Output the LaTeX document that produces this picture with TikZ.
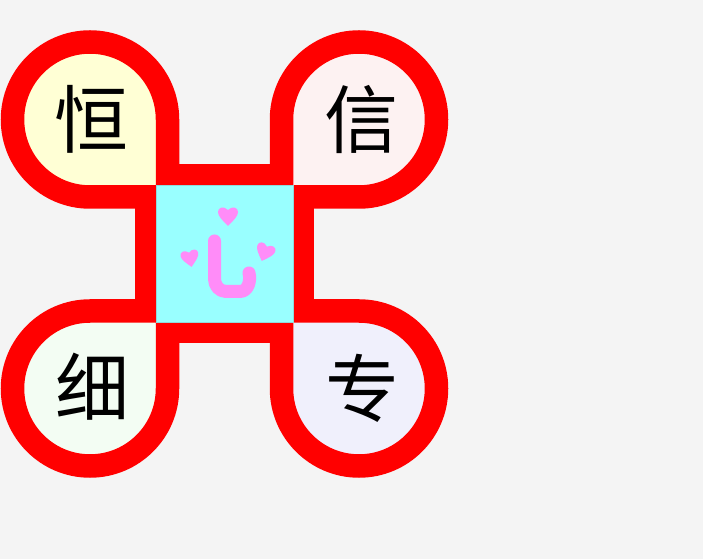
\documentclass[tikz,border=0pt]{standalone}
\usepackage{fontspec}
\newfontfamily\cjk{Noto Sans CJK SC}
\usetikzlibrary{calc}
\definecolor{bg}{HTML}{F4F4F4}
\definecolor{fillA}{HTML}{FFFFD5}
\definecolor{fillB}{HTML}{FDF2F2}
\definecolor{fillC}{HTML}{F3FDF3}
\definecolor{fillD}{HTML}{F0F0FC}
\definecolor{cyanbox}{HTML}{99FFFF}
\definecolor{pinkish}{HTML}{FF8CF8}
\definecolor{redband}{HTML}{FF0000}
\begin{document}
\begin{tikzpicture}[x=1pt,y=1pt,
  petal/.style={draw=redband, line width=23.5pt, line join=miter},
  glyph/.style={font=\cjk\fontsize{74}{80}\selectfont, text=black, inner sep=0pt},
  heart/.pic={\fill[pinkish] (0,-1) .. controls (-0.6,-0.4) and (-1,0) .. (-1,0.4) .. controls (-1,0.85) and (-0.45,1.05) .. (0,0.6) .. controls (0.45,1.05) and (1,0.85) .. (1,0.4) .. controls (1,0) and (0.6,-0.4) .. (0,-1) -- cycle;}]
\fill[bg] (0,0) rectangle (703,559);
\useasboundingbox (0,0) rectangle (703,559);
\coordinate (G) at (224.5,305);
% red frame of the centre square
\fill[redband] ($(G)+(-89.5,-89.5)$) rectangle ($(G)+(89.5,89.5)$);
% petals
\foreach \ang/\col in {0/fillA, -90/fillB, 180/fillD, 90/fillC}{
  \begin{scope}[shift={(G)}, rotate=\ang]
    \filldraw[petal, fill=\col] (-57,134.5) -- (-57,57) -- (-134.5,57)
      arc[start angle=270, end angle=0, radius=77.5] -- cycle;
  \end{scope}
}
% centre square
\filldraw[fill=cyanbox, draw=cyanbox!70!gray, line width=0.6pt] ($(G)+(-68.5,-68.5)$) rectangle ($(G)+(68.5,68.5)$);
% texts
\node[glyph] (heng) at ($(G)+(-133.5,135)$) {恒};
\node[glyph] (xin) at ($(G)+(136.5,135)$) {信};
\node[glyph] (xi) at ($(G)+(-132.5,-133)$) {细};
\node[glyph] (zhuan) at ($(G)+(137.5,-134)$) {专};
% stylised heart-character
\draw[pinkish, line width=13pt, line cap=round, line join=round]
  (214.5,318) -- (214.5,280) to[out=-90,in=180] (226,267.5) -- (240,267.5) to[out=0,in=-75] (249,286);
\pic[scale=10] at (228,343) {heart};
\pic[scale=9, rotate=10] at (190,301) {heart};
\pic[scale=9.5, rotate=-20] at (265,307) {heart};
\end{tikzpicture}
\end{document}
